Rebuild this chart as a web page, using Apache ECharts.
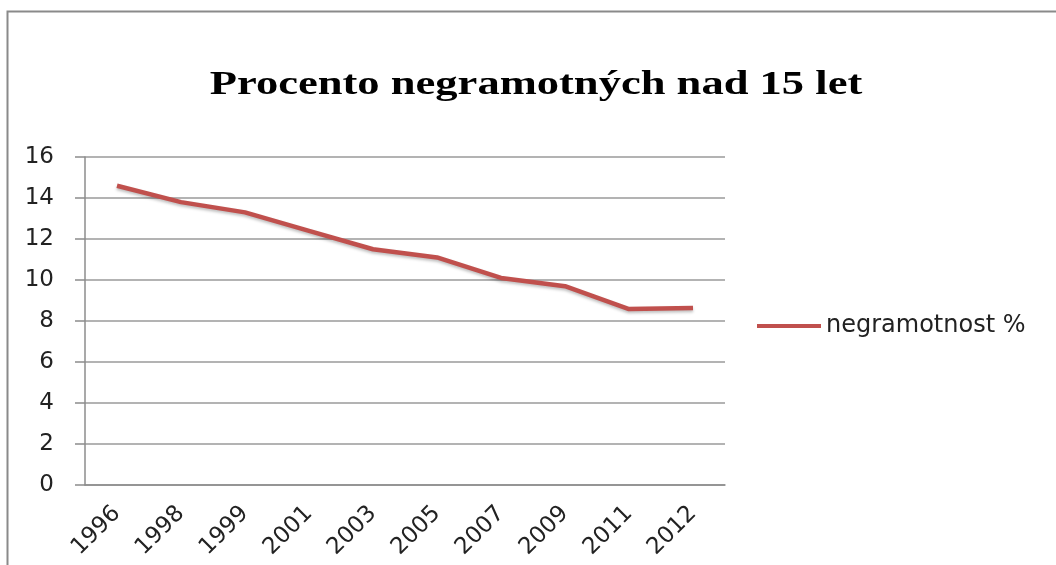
<!DOCTYPE html>
<html><head><meta charset="utf-8">
<script src="https://cdn.jsdelivr.net/npm/echarts@6/dist/echarts.min.js"></script>
<style>html,body{margin:0;padding:0;background:#fff}#c{width:1056px;height:565px}</style>
</head><body><div id="c"></div>
<script>
const categories = ['1996','1998','1999','2001','2003','2005','2007','2009','2011','2012'];
const negramotnost = [14.6, 13.8, 13.3, 12.4, 11.5, 11.1, 10.1, 9.7, 8.58, 8.63];
const seriesName = 'negramotnost %';
const titleText = 'Procento negramotných nad 15 let';

const chart = echarts.init(document.getElementById('c'), null, {renderer: 'canvas'});
const sans = 'DejaVu Sans';
chart.setOption({
  animation: false,
  backgroundColor: '#fff',
  graphic: [{
    type: 'rect', left: 5, top: 9, silent: true,
    shape: {width: 1200, height: 700},
    style: {fill: 'none', stroke: '#8a8a8a', lineWidth: 2}
  }, {
    type: 'text', x: 536, y: 85, scaleX: 1.35, silent: true,
    style: {text: titleText, font: 'bold 33px "Liberation Serif"', fill: '#000',
            textAlign: 'center', textVerticalAlign: 'middle'}
  }],
  legend: {
    left: 752, top: 309, icon: 'rect', itemWidth: 64, itemHeight: 4,
    textStyle: {fontFamily: sans, fontSize: 24, color: '#222'},
    data: [seriesName]
  },
  grid: {left: 85, right: 331, top: 157, bottom: 80, containLabel: false},
  xAxis: {
    type: 'category', data: categories, boundaryGap: true,
    axisLine: {lineStyle: {color: '#8c8c8c', width: 1.5}},
    axisTick: {length: 9, lineStyle: {color: '#8c8c8c', width: 1.5}},
    axisLabel: {rotate: 45, fontFamily: sans, fontSize: 23, color: '#222', margin: 25, interval: 0}
  },
  yAxis: {
    type: 'value', min: 0, max: 16, interval: 2,
    axisLine: {show: true, lineStyle: {color: '#8c8c8c', width: 1.5}},
    axisTick: {show: true, length: 10, lineStyle: {color: '#8c8c8c', width: 1.5}},
    splitLine: {lineStyle: {color: '#9a9a9a', width: 1.5}},
    axisLabel: {fontFamily: sans, fontSize: 23, color: '#222', margin: 31}
  },
  series: [{
    name: seriesName, type: 'line', data: negramotnost,
    symbol: 'none', smooth: false,
    itemStyle: {color: '#C0504D'},
    lineStyle: {color: '#C0504D', width: 4.5, shadowColor: 'rgba(0,0,0,0.25)', shadowBlur: 3, shadowOffsetY: 2}
  }]
});
</script></body></html>
